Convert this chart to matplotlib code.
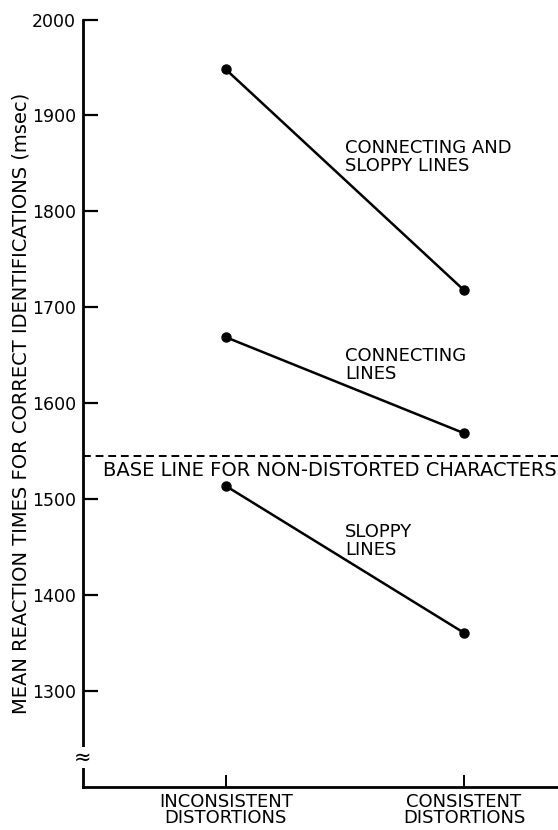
import matplotlib
matplotlib.use('Agg')
import matplotlib.pyplot as plt

# data
CONDITIONS = ['INCONSISTENT\nDISTORTIONS', 'CONSISTENT\nDISTORTIONS']
CONNECTING_AND_SLOPPY = [1948, 1718]
CONNECTING = [1669, 1569]
SLOPPY = [1514, 1361]
BASELINE = 1545
Y_TICKS = [1300, 1400, 1500, 1600, 1700, 1800, 1900, 2000]

plt.rcParams.update({
    'font.family': 'DejaVu Sans',
    'font.size': 13,
})

fig = plt.figure(figsize=(5.58, 8.30), dpi=100)
ax = fig.add_axes([0.1487, 0.0514, 0.8513, 0.9251])

xs = list(range(len(CONDITIONS)))
for series in (CONNECTING_AND_SLOPPY, CONNECTING, SLOPPY):
    ax.plot(xs, series, color='black', linewidth=1.8, marker='o',
            markersize=6.5, solid_capstyle='round')

ax.axhline(BASELINE, color='black', linewidth=1.4, linestyle=(0, (4, 2.5)))

ax.set_xlim(-0.6, 1.395)
ax.set_ylim(1200, 2000)

ax.spines['top'].set_visible(False)
ax.spines['right'].set_visible(False)
ax.spines['left'].set_linewidth(2.0)
ax.spines['bottom'].set_linewidth(2.0)

ax.set_yticks(Y_TICKS)
ax.set_yticklabels([str(t) for t in Y_TICKS], fontsize=12.5)
ax.set_xticks(xs)
ax.set_xticklabels(CONDITIONS, fontsize=13, linespacing=0.9)
ax.tick_params(axis='y', direction='in', length=11, width=1.6, pad=5)
ax.tick_params(axis='x', direction='in', length=9, width=1.4, pad=4)

ax.set_ylabel('MEAN REACTION TIMES FOR CORRECT IDENTIFICATIONS (msec)',
              fontsize=14, labelpad=1)

ax.text(0.5, 1876, 'CONNECTING AND\nSLOPPY LINES', ha='left', va='top',
        fontsize=13, linespacing=1.0)
ax.text(0.5, 1659, 'CONNECTING\nLINES', ha='left', va='top',
        fontsize=13, linespacing=1.0)
ax.text(0.5, 1475, 'SLOPPY\nLINES', ha='left', va='top',
        fontsize=13, linespacing=1.0)
ax.text(-0.517, 1540, 'BASE LINE FOR NON-DISTORTED CHARACTERS', ha='left',
        va='top', fontsize=14)

# axis break mark
ax.text(-0.6, 1231, '≈', ha='center', va='center', fontsize=15,
        clip_on=False,
        bbox=dict(facecolor='white', edgecolor='none', pad=0.5))

fig.savefig('out.png', dpi=100)
